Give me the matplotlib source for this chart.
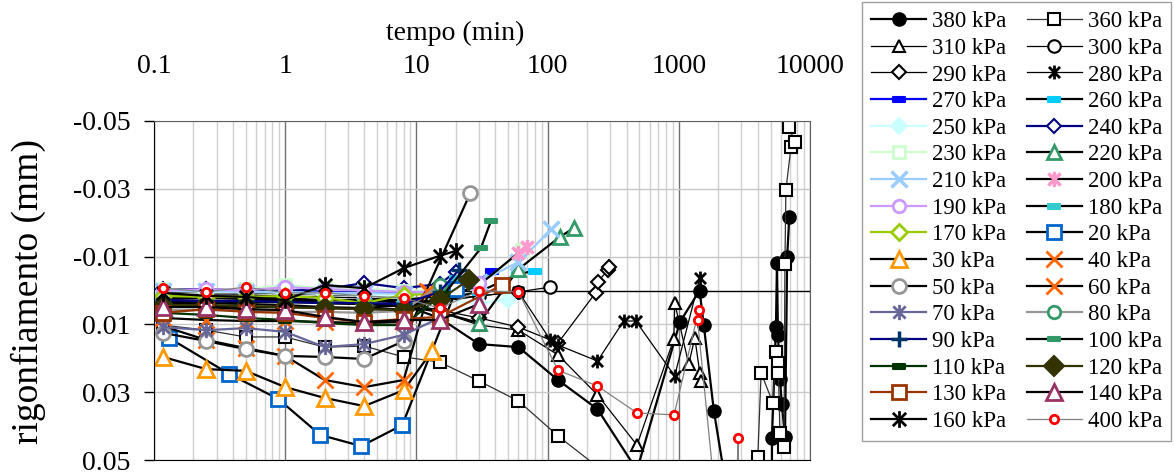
import numpy as np
import matplotlib
matplotlib.use("Agg")
import matplotlib.pyplot as plt
from matplotlib.path import Path

plt.rcParams['font.family'] = ['Liberation Serif', 'DejaVu Serif']

# ---- data (time in min, swelling in mm) ----
T7 = [0.117, 0.25, 0.5, 1, 2, 4, 8]

t380 = T7 + [15, 30, 60, 120, 240, 480, 1020, 1440, 1550, 1850, 5100, 5130, 5500, 5600, 5700, 5900, 6100, 6450, 6700, 6950]
y380 = [0.0028, 0.0031, 0.0034, 0.0028, 0.0037, 0.0040, 0.0043, 0.0081, 0.0158, 0.0167, 0.0264, 0.0350, 0.053,
        0.0093, 0.0, 0.0102, 0.0355, 0.14, 0.0435, 0.0108, -0.0081, 0.0131, 0.0261, 0.0335, 0.0432, -0.0099, -0.0217]

t360 = T7 + [15, 30, 60, 120, 240, 480, 1440, 3990, 4000, 4240, 5220, 5500, 5700, 5750, 5900, 6330, 6440, 6550, 7160, 7680, 6920, 7040]
y360 = [0.0102, 0.0117, 0.0137, 0.0137, 0.0167, 0.0164, 0.0196, 0.0211, 0.0267, 0.0326, 0.0429, 0.052, 0.08, 0.10,
        0.12, 0.0491, 0.0243, 0.0332, 0.0181, 0.0214, 0.0243, 0.0420, 0.0462, -0.0078, -0.0296, -0.0423, -0.0438,
        -0.0482, -0.07]

t310 = T7 + [15, 30, 60, 120, 240, 480, 917, 931, 1190, 1325, 1446, 1470]
y310 = [0.0013, 0.0019, 0.0022, 0.0028, 0.0031, 0.0028, 0.0034, 0.0063, 0.0102, 0.0117, 0.0190, 0.0308, 0.0456,
        0.0143, 0.0037, 0.0217, 0.0140, 0.0243, 0.0267]

t300 = T7 + [15, 30, 60, 105]
y300 = [0.0004, 0.0007, 0.0007, 0.0010, 0.0013, 0.0016, 0.0022, 0.0034, 0.0016, 0.0004, -0.0010]

t290 = T7 + [15, 30, 60, 120, 232, 241, 287, 292]
y290 = [0.0016, 0.0019, 0.0019, 0.0022, 0.0028, 0.0031, 0.0037, 0.0058, 0.0081, 0.0108, 0.0155, 0.0007, -0.0025,
        -0.0060, -0.0069]

t280 = T7 + [15, 30, 60, 105, 120, 240, 380, 470, 930, 1446]
y280 = [0.0010, 0.0013, 0.0013, 0.0016, 0.0019, 0.0022, 0.0028, 0.0028, 0.0016, 0.0004, 0.0146, 0.0161, 0.0208,
        0.0090, 0.0090, 0.0252, -0.0037]

t270 = T7 + [15, 30, 38]
y270 = [0.0, 0.0001, 0.0001, 0.0004, 0.0004, 0.0007, 0.0007, 0.0004, -0.0031, -0.0058]

t260 = T7 + [15, 30, 60, 80]
y260 = [0.0019, 0.0022, 0.0022, 0.0025, 0.0028, 0.0028, 0.0031, 0.0028, 0.0004, -0.0049, -0.0058]

t250 = T7 + [15, 30, 50]
y250 = [0.0001, 0.0004, 0.0004, 0.0007, 0.0010, 0.0013, 0.0019, 0.0028, 0.0037, 0.0028]

t240 = T7 + [15, 20]
y240 = [-0.0004, -0.0004, 0.0, 0.0001, -0.0004, -0.0022, -0.0007, -0.0019, -0.0055]

t230 = T7 + [15, 30, 64]
y230 = [-0.0004, 0.0, -0.0004, -0.0016, -0.0007, -0.0004, 0.0, 0.0, -0.0016, -0.0119]

t220 = T7 + [15, 30, 60, 124, 158]
y220 = [0.0031, 0.0031, 0.0034, 0.0034, 0.0037, 0.0040, 0.0046, 0.0063, 0.0096, -0.0063, -0.0158, -0.0184]

t210 = T7 + [15, 30, 60, 107]
y210 = [0.0001, 0.0001, 0.0004, 0.0004, 0.0007, 0.0007, 0.0010, 0.0010, -0.0025, -0.0084, -0.0181]

t200 = T7 + [15, 30, 60, 70]
y200 = [0.0037, 0.0037, 0.0040, 0.0043, 0.0049, 0.0052, 0.0043, 0.0028, -0.0016, -0.0111, -0.0128]

t190 = T7 + [15, 30]
y190 = [0.0, -0.0004, 0.0, -0.0010, -0.0004, 0.0, 0.0004, 0.0004, -0.0022]

t180 = T7 + [15, 20]
y180 = [0.0022, 0.0022, 0.0025, 0.0028, 0.0028, 0.0031, 0.0028, 0.0016, -0.0037]

t170 = T7 + [15]
y170 = [0.0016, 0.0019, 0.0019, 0.0016, 0.0022, 0.0037, 0.0013, 0.0010]

t20 = [0.13, 0.374, 0.885, 1.85, 3.8, 7.8, 20.2]
y20 = [0.0140, 0.0246, 0.0320, 0.0426, 0.0459, 0.0397, -0.0004]

t30 = T7 + [13.2]
y30 = [0.0196, 0.0232, 0.0237, 0.0285, 0.0317, 0.0341, 0.0294, 0.0178]

t40 = T7 + [12.4]
y40 = [0.0105, 0.0146, 0.0170, 0.0193, 0.0264, 0.0285, 0.0264, 0.0004]

t50 = T7 + [25.8]
y50 = [0.0125, 0.0149, 0.0173, 0.0193, 0.0196, 0.0202, 0.0149, -0.0288]

t60 = T7 + [12]
y60 = [0.0081, 0.0087, 0.0090, 0.0090, 0.0093, 0.0096, 0.0093, 0.0]

t70 = T7 + [15]
y70 = [0.0108, 0.0117, 0.0111, 0.0122, 0.0167, 0.0158, 0.0131, 0.0081]

t80 = T7 + [15]
y80 = [0.0058, 0.0058, 0.0060, 0.0063, 0.0063, 0.0066, 0.0060, -0.0016]

t90 = T7 + [15, 21]
y90 = [0.0028, 0.0031, 0.0031, 0.0034, 0.0037, 0.0037, 0.0040, 0.0004, -0.0060]

t100 = T7 + [15, 31, 37]
y100 = [0.0046, 0.0046, 0.0049, 0.0049, 0.0052, 0.0055, 0.0055, 0.0028, -0.0125, -0.0205]

t110 = T7 + [16]
y110 = [0.0066, 0.0072, 0.0081, 0.0087, 0.0096, 0.0102, 0.0102, 0.0010]

t120 = T7 + [15, 25]
y120 = [0.0043, 0.0043, 0.0046, 0.0049, 0.0052, 0.0055, 0.0058, 0.0028, -0.0031]

t130 = T7 + [15, 45]
y130 = [0.0066, 0.0055, 0.0063, 0.0066, 0.0081, 0.0093, 0.0084, 0.0078, -0.0016]

t140 = T7 + [15, 30]
y140 = [0.0049, 0.0049, 0.0055, 0.0058, 0.0078, 0.0093, 0.0087, 0.0087, 0.0040]

t160 = T7 + [15, 20]
y160 = [0.0007, 0.0016, 0.0019, 0.0028, -0.0016, -0.0007, -0.0066, -0.0102, -0.0117]

t400 = T7 + [15, 30, 60, 120, 240, 480, 920, 1420, 1390, 2000, 2750, 2820, 2900]
y400 = [-0.0007, 0.0004, -0.0010, 0.0007, 0.0007, 0.0016, 0.0022, 0.0052, 0.0001, 0.0004, 0.0235, 0.0282,
        0.0361, 0.0367, 0.0058, 0.0087, 0.07, 0.07, 0.0435, 0.07]

x_ticks = [0.1, 1, 10, 100, 1000, 10000]
x_labels = ['0.1', '1', '10', '100', '1000', '10000']
y_ticks = [-0.05, -0.03, -0.01, 0.01, 0.03, 0.05]
y_labels = ['-0.05', '-0.03', '-0.01', '0.01', '0.03', '0.05']

# ---- custom markers ----
star = Path([(-1, -1), (1, 1), (-1, 1), (1, -1), (0, -1.25), (0, 1.25)],
            [Path.MOVETO, Path.LINETO, Path.MOVETO, Path.LINETO, Path.MOVETO, Path.LINETO])
dash = Path([(-1, -0.4), (1, -0.4), (1, 0.4), (-1, 0.4), (-1, -0.4)],
            [Path.MOVETO, Path.LINETO, Path.LINETO, Path.LINETO, Path.CLOSEPOLY])


def st(lc, m, mc, lw=1.6, ms=9, fill='white', mew=1.5):
    face = mc if fill == 'same' else fill
    return dict(color=lc, lw=lw, marker=m, ms=ms, mec=mc, mfc=face, mew=mew)


series = [
    ('380 kPa', t380, y380, st('black', 'o', 'black', fill='same', ms=9)),
    ('360 kPa', t360, y360, st('#303030', 's', 'black', lw=0.9, ms=9)),
    ('310 kPa', t310, y310, st('black', '^', 'black', lw=0.9, ms=9)),
    ('300 kPa', t300, y300, st('black', 'o', 'black', lw=0.9, ms=9)),
    ('290 kPa', t290, y290, st('black', 'D', 'black', lw=0.9, ms=7)),
    ('280 kPa', t280, y280, st('black', star, 'black', lw=0.9, ms=10, mew=2)),
    ('270 kPa', t270, y270, st('#0000ff', dash, '#0000ff', fill='same', ms=9)),
    ('260 kPa', t260, y260, st('black', dash, '#00ccff', fill='same', ms=9)),
    ('250 kPa', t250, y250, st('#ccffff', 'D', '#ccffff', fill='same', ms=8)),
    ('240 kPa', t240, y240, st('#000080', 'D', '#000080', ms=7)),
    ('230 kPa', t230, y230, st('#ccffcc', 's', '#ccffcc', ms=9, mew=2)),
    ('220 kPa', t220, y220, st('black', '^', '#339966', ms=10, mew=2)),
    ('210 kPa', t210, y210, st('#99ccff', 'x', '#99ccff', ms=11, mew=2.5)),
    ('200 kPa', t200, y200, st('black', star, '#ff99cc', ms=11, mew=2.5)),
    ('190 kPa', t190, y190, st('#cc99ff', 'o', '#cc99ff', ms=9, mew=2)),
    ('180 kPa', t180, y180, st('black', dash, '#33cccc', fill='same', ms=9)),
    ('170 kPa', t170, y170, st('#99cc00', 'D', '#99cc00', ms=8, mew=2)),
    ('20 kPa', t20, y20, st('black', 's', '#0066cc', ms=10, mew=2)),
    ('30 kPa', t30, y30, st('black', '^', '#ff9900', ms=11, mew=2)),
    ('40 kPa', t40, y40, st('black', 'x', '#ff6600', ms=11, mew=2)),
    ('50 kPa', t50, y50, st('black', 'o', '#969696', ms=10, mew=2)),
    ('60 kPa', t60, y60, st('black', 'x', '#ff6600', ms=11, mew=2)),
    ('70 kPa', t70, y70, st('#666699', star, '#666699', ms=11, mew=2)),
    ('80 kPa', t80, y80, st('#969696', 'o', '#339966', ms=9, mew=2)),
    ('90 kPa', t90, y90, st('#000080', '+', '#003366', ms=12, mew=2.5)),
    ('100 kPa', t100, y100, st('black', dash, '#339966', fill='same', ms=8)),
    ('110 kPa', t110, y110, st('#003300', dash, '#003300', fill='same', ms=9)),
    ('120 kPa', t120, y120, st('#333300', 'D', '#333300', fill='same', ms=10)),
    ('130 kPa', t130, y130, st('#993300', 's', '#993300', ms=10, mew=2)),
    ('140 kPa', t140, y140, st('black', '^', '#993366', ms=11, mew=2)),
    ('160 kPa', t160, y160, st('black', star, 'black', ms=12, mew=2)),
    ('400 kPa', t400, y400, st('#808080', 'o', 'red', lw=0.9, ms=6, mew=2)),
]

fig = plt.figure(figsize=(11.74, 4.73), dpi=100)
ax = fig.add_axes([154 / 1174, 1 - 460 / 473, (810 - 154) / 1174, (460 - 121) / 473])

handles = []
for label, t, y, kw in series:
    h, = ax.plot(t, y, label=label, **kw)
    handles.append(h)

ax.set_xscale('log')
ax.set_xlim(0.1, 10000)
ax.set_ylim(0.05, -0.05)
ax.axhline(0, color='black', lw=1, zorder=1)

ax.xaxis.tick_top()
ax.set_xticks(x_ticks, labels=x_labels)
ax.tick_params(axis='x', which='both', length=0, pad=30, labelsize=20)
ax.set_yticks(y_ticks, labels=y_labels)
ax.tick_params(axis='y', length=7, width=1, pad=10, labelsize=20)

ax.grid(True, which='major', axis='x', color='#707070', lw=1)
ax.grid(True, which='minor', axis='x', color='#d0d0d0', lw=1)
ax.grid(True, which='major', axis='y', color='#c8c8c8', lw=1)
ax.set_axisbelow(True)
for s in ['top', 'right']:
    ax.spines[s].set_color('#606060')
for s in ['left', 'bottom']:
    ax.spines[s].set_color('black')

fig.text(455 / 1174, 1 - 33 / 473, 'tempo (min)', ha='center', va='center', fontsize=20)
fig.text(28 / 1174, 1 - 292 / 473, 'rigonfiamento (mm)', ha='center', va='center', rotation=90, fontsize=27)

# legend reads row by row: left column gets every other series
leg_handles = handles[0::2] + handles[1::2]
fig.legend(leg_handles, [h.get_label() for h in leg_handles], loc='upper left',
           bbox_to_anchor=(862 / 1174, 1 - 2 / 473), ncol=2, fontsize=16.5,
           frameon=True, fancybox=False, edgecolor='#a0a0a0', framealpha=1,
           handlelength=2.4, handletextpad=0.25, columnspacing=0.9,
           labelspacing=0.245, borderpad=0.4, borderaxespad=0)

fig.savefig('out.png', dpi=100)
